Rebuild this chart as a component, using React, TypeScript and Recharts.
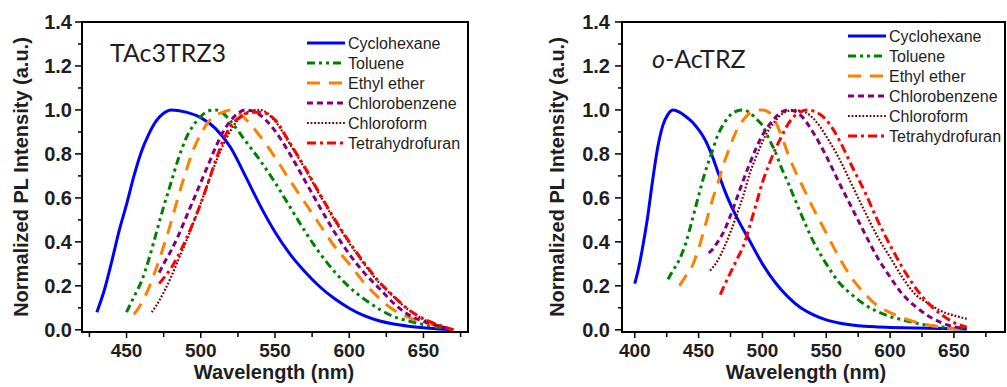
import React from "react";
import { LineChart, Line, XAxis, YAxis, ReferenceArea, Legend, Label } from "recharts";

type Pt = [number, number];

// TAc3TRZ3 spectra, [wavelength nm, normalized intensity]
const tacCyclohexane: Pt[] = [
  [430, 0.08], [435, 0.18], [440, 0.31], [445, 0.45], [450, 0.57], [455, 0.7], [460, 0.81],
  [465, 0.89], [470, 0.95], [475, 0.985], [480, 1.0], [490, 0.99], [500, 0.965], [510, 0.915],
  [520, 0.83], [530, 0.7], [540, 0.565], [550, 0.445], [560, 0.345], [570, 0.265], [580, 0.197],
  [590, 0.142], [600, 0.098], [610, 0.064], [620, 0.041], [630, 0.026], [640, 0.016], [650, 0.009],
  [660, 0.004], [670, 0],
];
const tacToluene: Pt[] = [
  [450, 0.08], [455, 0.15], [460, 0.22], [465, 0.32], [470, 0.44], [475, 0.56], [480, 0.67],
  [485, 0.78], [490, 0.87], [495, 0.93], [500, 0.97], [505, 0.995], [510, 1.0], [515, 0.985],
  [520, 0.95], [530, 0.86], [540, 0.77], [550, 0.67], [560, 0.56], [570, 0.45], [580, 0.35],
  [590, 0.265], [600, 0.195], [610, 0.14], [620, 0.095], [630, 0.06], [640, 0.04], [650, 0.024],
  [660, 0.012], [670, 0],
];
const tacEther: Pt[] = [
  [455, 0.07], [460, 0.12], [465, 0.19], [470, 0.28], [475, 0.38], [480, 0.49], [485, 0.61],
  [490, 0.72], [495, 0.82], [500, 0.89], [505, 0.945], [510, 0.975], [515, 0.99], [520, 1.0],
  [525, 0.99], [530, 0.96], [540, 0.88], [550, 0.785], [560, 0.68], [570, 0.58], [580, 0.48],
  [590, 0.38], [600, 0.3], [610, 0.215], [620, 0.145], [630, 0.09], [640, 0.057], [650, 0.034],
  [660, 0.015], [670, 0],
];
const tacChlorobenzene: Pt[] = [
  [472, 0.26], [475, 0.3], [480, 0.36], [485, 0.43], [490, 0.51], [495, 0.59], [500, 0.67],
  [505, 0.75], [510, 0.83], [515, 0.9], [520, 0.95], [525, 0.985], [530, 1.0], [535, 0.995],
  [540, 0.977], [550, 0.905], [560, 0.8], [570, 0.68], [580, 0.56], [590, 0.445], [600, 0.345],
  [610, 0.26], [620, 0.19], [630, 0.12], [640, 0.068], [650, 0.038], [660, 0.018], [670, 0],
];
const tacChloroform: Pt[] = [
  [467, 0.08], [470, 0.11], [475, 0.17], [480, 0.24], [485, 0.32], [490, 0.4], [495, 0.485],
  [500, 0.575], [505, 0.67], [510, 0.76], [515, 0.84], [520, 0.905], [525, 0.955], [530, 0.985],
  [535, 0.998], [540, 1.0], [550, 0.95], [560, 0.845], [570, 0.735], [580, 0.615], [590, 0.5],
  [600, 0.395], [610, 0.3], [620, 0.215], [630, 0.15], [640, 0.09], [650, 0.048], [660, 0.02],
  [670, 0],
];
const tacThf: Pt[] = [
  [472, 0.21], [475, 0.235], [480, 0.28], [485, 0.34], [490, 0.41], [495, 0.49], [500, 0.575],
  [505, 0.67], [510, 0.77], [515, 0.86], [520, 0.925], [525, 0.96], [530, 0.982], [535, 0.99],
  [540, 0.99], [550, 0.955], [560, 0.85], [570, 0.74], [580, 0.62], [590, 0.505], [600, 0.4],
  [610, 0.305], [620, 0.22], [630, 0.152], [640, 0.092], [650, 0.05], [660, 0.022], [670, 0],
];

// o-AcTRZ spectra
const acCyclohexane: Pt[] = [
  [400, 0.21], [403, 0.28], [406, 0.37], [410, 0.51], [414, 0.68], [418, 0.83], [422, 0.93],
  [426, 0.98], [430, 1.0], [435, 0.99], [440, 0.97], [445, 0.945], [450, 0.91], [455, 0.865],
  [460, 0.8], [465, 0.72], [470, 0.64], [475, 0.57], [480, 0.51], [490, 0.405], [500, 0.3],
  [510, 0.215], [520, 0.15], [530, 0.1], [540, 0.068], [550, 0.045], [560, 0.031], [570, 0.022],
  [580, 0.016], [590, 0.013], [600, 0.011], [620, 0.008], [640, 0.006], [660, 0.004],
];
const acToluene: Pt[] = [
  [426, 0.23], [430, 0.27], [435, 0.32], [440, 0.395], [445, 0.5], [450, 0.61], [455, 0.715],
  [460, 0.8], [465, 0.885], [470, 0.94], [475, 0.978], [480, 0.995], [485, 1.0], [490, 0.988],
  [495, 0.96], [500, 0.93], [505, 0.87], [510, 0.81], [515, 0.735], [520, 0.67], [525, 0.6],
  [530, 0.53], [540, 0.4], [550, 0.3], [560, 0.215], [570, 0.16], [580, 0.115], [590, 0.083],
  [600, 0.06], [610, 0.045], [620, 0.031], [630, 0.02], [640, 0.013], [650, 0.008], [660, 0.003],
];
const acEther: Pt[] = [
  [435, 0.2], [440, 0.245], [445, 0.29], [450, 0.37], [455, 0.47], [460, 0.575], [465, 0.665],
  [470, 0.76], [475, 0.84], [480, 0.91], [485, 0.955], [490, 0.985], [495, 0.998], [500, 1.0],
  [505, 0.99], [510, 0.95], [515, 0.88], [520, 0.8], [525, 0.73], [530, 0.67], [540, 0.55],
  [550, 0.44], [560, 0.33], [570, 0.235], [580, 0.165], [590, 0.11], [600, 0.078], [610, 0.054],
  [620, 0.035], [630, 0.022], [640, 0.012], [650, 0.005], [660, 0.002],
];
const acChlorobenzene: Pt[] = [
  [458, 0.35], [460, 0.36], [465, 0.4], [470, 0.45], [475, 0.52], [480, 0.6], [485, 0.68],
  [490, 0.755], [495, 0.825], [500, 0.885], [505, 0.93], [510, 0.965], [515, 0.99], [520, 1.0],
  [525, 0.995], [530, 0.975], [535, 0.94], [540, 0.895], [550, 0.79], [560, 0.67], [570, 0.555],
  [580, 0.44], [590, 0.33], [600, 0.24], [610, 0.16], [620, 0.105], [630, 0.063], [640, 0.033],
  [650, 0.014], [660, 0.004],
];
const acChloroform: Pt[] = [
  [459, 0.27], [465, 0.315], [470, 0.375], [475, 0.445], [480, 0.525], [485, 0.61], [490, 0.71],
  [495, 0.785], [500, 0.855], [505, 0.91], [510, 0.95], [515, 0.98], [520, 0.995], [525, 1.0],
  [530, 0.995], [535, 0.985], [540, 0.96], [545, 0.925], [550, 0.88], [560, 0.78], [570, 0.66],
  [580, 0.54], [590, 0.425], [600, 0.33], [610, 0.235], [620, 0.16], [630, 0.12], [640, 0.085],
  [650, 0.065], [660, 0.05],
];
const acThf: Pt[] = [
  [467, 0.16], [470, 0.2], [475, 0.26], [480, 0.32], [485, 0.38], [490, 0.47], [495, 0.57],
  [500, 0.67], [505, 0.75], [510, 0.82], [515, 0.88], [520, 0.935], [525, 0.972], [530, 0.993],
  [535, 1.0], [540, 0.995], [545, 0.98], [550, 0.955], [555, 0.915], [560, 0.865], [570, 0.745],
  [580, 0.63], [590, 0.5], [600, 0.385], [610, 0.28], [620, 0.19], [630, 0.12], [640, 0.07],
  [650, 0.033], [660, 0.012],
];

const SOLVENTS = ["Cyclohexane", "Toluene", "Ethyl ether", "Chlorobenzene", "Chloroform", "Tetrahydrofuran"];
const COLORS = ["#0000ff", "#008000", "#ff8000", "#800080", "#800000", "#ff0000"];
const DASHES = ["", "8 4 3 4 3 4", "13 9", "6 4", "1.8 1.8", "9 4 3 4"];
const WIDTHS = [3, 3, 3, 3, 2.2, 3];

const Y_TICKS = [0, 0.1, 0.2, 0.3, 0.4, 0.5, 0.6, 0.7, 0.8, 0.9, 1.0, 1.1, 1.2, 1.3, 1.4];
const TAC_X_TICKS = [425, 450, 475, 500, 525, 550, 575, 600, 625, 650, 675];
const AC_X_TICKS = [400, 425, 450, 475, 500, 525, 550, 575, 600, 625, 650, 675];

const FONT = "'Liberation Sans', Arial, sans-serif";
const TEXT = "#1e1e1e";
const PLOT_TOP = 22;
const PLOT_BOTTOM = 332;

const rows = (pts: Pt[]) => pts.map(([x, y]) => ({ x, y }));

const XTick = (props: any) => {
  const { x, y, payload } = props;
  const v = payload.value;
  const major = v % 50 === 0;
  const y0 = y - 12;
  return (
    <g>
      <line x1={x} x2={x} y1={y0} y2={y0 + (major ? 6 : 5)} stroke="#000" strokeWidth={1.5} />
      {major && (
        <text x={x} y={y} dy="0.71em" textAnchor="middle" fontSize={19} fontWeight="bold" fontFamily={FONT} fill={TEXT}>
          {v}
        </text>
      )}
    </g>
  );
};

const makeYTick = (margin: number) => (props: any) => {
  const { x, y, payload } = props;
  const v = payload.value;
  const major = Math.round(v * 10) % 2 === 0;
  const x0 = x + 5 + margin;
  return (
    <g>
      <line x1={x0} x2={x0 - (major ? 7 : 4)} y1={y} y2={y} stroke="#000" strokeWidth={1.5} />
      {major && (
        <text x={x} y={y} dy="0.36em" textAnchor="end" fontSize={20} fontWeight="bold" fontFamily={FONT} fill={TEXT}>
          {v.toFixed(1)}
        </text>
      )}
    </g>
  );
};

const SolventLegend = () => (
  <svg width={180} height={125}>
    {SOLVENTS.map((name, i) => (
      <g key={name}>
        <line
          x1={2}
          x2={40}
          y1={10 + i * 20}
          y2={10 + i * 20}
          stroke={COLORS[i]}
          strokeWidth={WIDTHS[i]}
          strokeDasharray={DASHES[i] || undefined}
        />
        <text x={43} y={10 + i * 20} dy="0.36em" fontSize={16} fontFamily={FONT} fill={TEXT}>
          {name}
        </text>
      </g>
    ))}
  </svg>
);

interface PanelProps {
  series: Pt[][];
  xDomain: [number, number];
  xTicks: number[];
  width: number;
  yAxisWidth: number;
  tickMargin: number;
  yLabelX: number;
  xLabelX: number;
  legendPos: { left: number; top: number };
}

const Panel: React.FC<PanelProps> = ({ series, xDomain, xTicks, width, yAxisWidth, tickMargin, yLabelX, xLabelX, legendPos }) => (
  <LineChart width={width} height={387} margin={{ top: PLOT_TOP, right: 2, left: 0, bottom: 0 }}>
    <XAxis
      type="number"
      dataKey="x"
      domain={xDomain}
      ticks={xTicks}
      interval={0}
      allowDataOverflow
      height={387 - PLOT_BOTTOM}
      tickSize={5}
      tickMargin={7}
      tickLine={false}
      tick={<XTick />}
      axisLine={{ stroke: "#000", strokeWidth: 2 }}
    >
      <Label
        content={() => (
          <text x={xLabelX} y={379} textAnchor="middle" fontSize={20} fontWeight="bold" fontFamily={FONT} fill={TEXT}>
            Wavelength (nm)
          </text>
        )}
      />
    </XAxis>
    <YAxis
      type="number"
      domain={[-0.01, 1.4]}
      ticks={Y_TICKS}
      interval={0}
      allowDataOverflow
      width={yAxisWidth}
      tickSize={5}
      tickMargin={tickMargin}
      tickLine={false}
      tick={makeYTick(tickMargin)}
      axisLine={{ stroke: "#000", strokeWidth: 2 }}
    >
      <Label
        content={() => (
          <text
            x={yLabelX}
            y={177}
            transform={`rotate(-90 ${yLabelX} 177)`}
            textAnchor="middle"
            dominantBaseline="central"
            fontSize={20}
            fontWeight="bold"
            fontFamily={FONT}
            fill={TEXT}
          >
            Normalized PL Intensity (a.u.)
          </text>
        )}
      />
    </YAxis>
    <ReferenceArea x1={xDomain[0]} x2={xDomain[1]} y1={-0.01} y2={1.4} fill="none" stroke="#000" strokeWidth={2} />
    {series.map((pts, i) => (
      <Line
        key={SOLVENTS[i]}
        data={rows(pts)}
        dataKey="y"
        name={SOLVENTS[i]}
        type="monotone"
        stroke={COLORS[i]}
        strokeWidth={WIDTHS[i]}
        strokeDasharray={DASHES[i] || undefined}
        dot={false}
        activeDot={false}
        isAnimationActive={false}
      />
    ))}
    <Legend
      layout="vertical"
      align="center"
      verticalAlign="middle"
      content={() => <SolventLegend />}
      wrapperStyle={{ left: legendPos.left, top: legendPos.top, width: 180, height: 125 }}
    />
  </LineChart>
);

const titleStyle: React.CSSProperties = {
  position: "absolute",
  fontFamily: "Lato, 'Open Sans', sans-serif",
  fontSize: 25,
  lineHeight: "25px",
  color: TEXT,
  whiteSpace: "nowrap",
};

export default function App() {
  return (
    <div style={{ position: "absolute", left: 0, top: 0, width: 1007, height: 387, background: "#fff", overflow: "hidden" }}>
      <div style={{ position: "absolute", left: 0, top: 0, width: 480, height: 387 }}>
        <Panel
          series={[tacCyclohexane, tacToluene, tacEther, tacChlorobenzene, tacChloroform, tacThf]}
          xDomain={[420, 680]}
          xTicks={TAC_X_TICKS}
          width={470}
          yAxisWidth={82}
          tickMargin={5}
          yLabelX={21}
          xLabelX={274}
          legendPos={{ left: 305, top: 33 }}
        />
        <div style={{ ...titleStyle, left: 110, top: 40 }}>TAc3TRZ3</div>
      </div>
      <div style={{ position: "absolute", left: 520, top: 0, width: 487, height: 387 }}>
        <Panel
          series={[acCyclohexane, acToluene, acEther, acChlorobenzene, acChloroform, acThf]}
          xDomain={[390, 690]}
          xTicks={AC_X_TICKS}
          width={487}
          yAxisWidth={102}
          tickMargin={7}
          yLabelX={37}
          xLabelX={286}
          legendPos={{ left: 326, top: 26 }}
        />
        <div style={{ ...titleStyle, left: 132, top: 46 }}>
          <i>o</i>-AcTRZ
        </div>
      </div>
    </div>
  );
}
